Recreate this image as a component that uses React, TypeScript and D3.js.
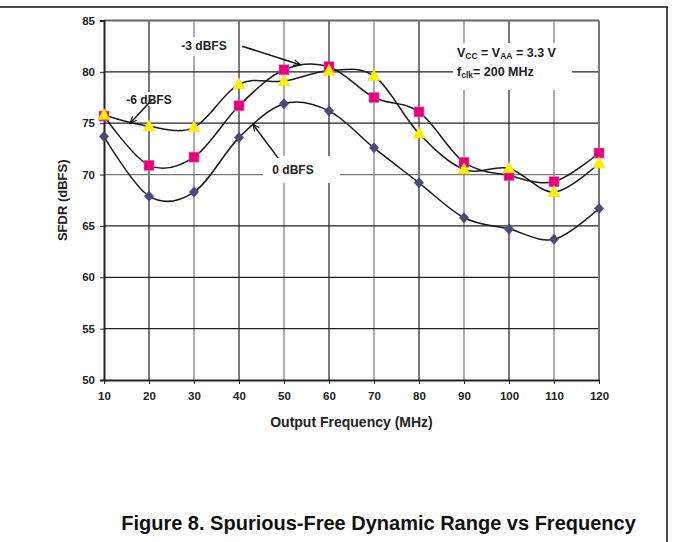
import { useEffect, useRef } from "react"
import * as d3 from "d3"

// output frequency (MHz)
const freqs = [10, 20, 30, 40, 50, 60, 70, 80, 90, 100, 110, 120]
// SFDR (dBFS) for each input level
const sfdr0 = [73.7, 67.9, 68.3, 73.6, 76.9, 76.2, 72.6, 69.2, 65.8, 64.7, 63.7, 66.7]
const sfdr3 = [75.7, 70.9, 71.7, 76.7, 80.2, 80.5, 77.5, 76.1, 71.2, 69.9, 69.3, 72.1]
const sfdr6 = [75.8, 74.7, 74.6, 78.8, 79.1, 80.1, 79.6, 74.0, 70.5, 70.6, 68.3, 71.1]
const yTicks = [50, 55, 60, 65, 70, 75, 80, 85]

const FONT = "'Liberation Sans', Arial, sans-serif"

export default function App() {
  const svgRef = useRef<SVGSVGElement>(null)

  useEffect(() => {
    if (!svgRef.current) return
    const svg = d3.select(svgRef.current)
    svg.selectAll("*").remove()

    const x = d3.scaleLinear().domain([10, 120]).range([104, 599])
    const y = d3.scaleLinear().domain([50, 85]).range([380, 20.5])

    // page frame
    svg.append("line").attr("x1", 0).attr("x2", 668).attr("y1", 7).attr("y2", 7)
      .attr("stroke", "#111").attr("stroke-width", 1.5)
    svg.append("line").attr("x1", 667).attr("x2", 667).attr("y1", 7).attr("y2", 542)
      .attr("stroke", "#111").attr("stroke-width", 1.5)

    const defs = svg.append("defs")
    defs.append("marker")
      .attr("id", "head")
      .attr("viewBox", "-10 -6 12 12")
      .attr("refX", 0).attr("refY", 0)
      .attr("markerWidth", 10).attr("markerHeight", 10)
      .attr("markerUnits", "userSpaceOnUse")
      .attr("orient", "auto")
      .append("path")
      .attr("d", "M-8,-3.5 L0,0 L-8,3.5")
      .attr("fill", "none").attr("stroke", "#111").attr("stroke-width", 1.4)

    const g = svg.append("g")

    // grid
    g.selectAll(".vgrid").data(freqs.slice(1, -1)).enter().append("line")
      .attr("x1", (d) => x(d)).attr("x2", (d) => x(d))
      .attr("y1", y(85)).attr("y2", y(50))
      .attr("stroke", (d, i) => (i % 2 === 0 ? "#222" : "#777")).attr("stroke-width", 1.2)
    g.selectAll(".hgrid").data(yTicks.slice(1, -1)).enter().append("line")
      .attr("x1", x(10)).attr("x2", x(120))
      .attr("y1", (d) => y(d)).attr("y2", (d) => y(d))
      .attr("stroke", (d) => (d === 70 ? "#777" : "#222")).attr("stroke-width", 1.2)

    // plot border
    g.append("line").attr("x1", x(10)).attr("x2", x(120)).attr("y1", y(85)).attr("y2", y(85))
      .attr("stroke", "#666").attr("stroke-width", 2)
    g.append("line").attr("x1", x(120)).attr("x2", x(120)).attr("y1", y(85)).attr("y2", y(50))
      .attr("stroke", "#777").attr("stroke-width", 2)

    // axes
    const yAxis = g.append("g").attr("transform", `translate(${x(10)},0)`)
      .call(d3.axisLeft(y).tickValues(yTicks).tickSize(4).tickPadding(5))
    yAxis.select(".domain").attr("stroke", "#222").attr("stroke-width", 2)
    yAxis.selectAll(".tick line").attr("stroke", "#222")
    yAxis.selectAll("text").style("font-family", FONT).style("font-size", "11.5px")
      .style("font-weight", "bold").style("fill", "#222")

    const xAxis = g.append("g").attr("transform", `translate(0,${y(50)})`)
      .call(d3.axisBottom(x).tickValues(freqs).tickSize(4).tickPadding(8).tickSizeOuter(0))
    xAxis.select(".domain").attr("stroke", "#222").attr("stroke-width", 2)
    xAxis.selectAll(".tick line").attr("stroke", "#222")
    xAxis.selectAll("text").style("font-family", FONT).style("font-size", "11.5px")
      .style("font-weight", "bold").style("fill", "#222")

    // annotation backgrounds
    const boxes = [
      { x: 176, y: 37, w: 58, h: 19 },
      { x: 263, y: 156, w: 77, h: 27 },
      { x: 122, y: 92, w: 54, h: 14 },
      { x: 453, y: 43, w: 119, h: 47 },
    ]
    g.selectAll(".box").data(boxes).enter().append("rect")
      .attr("x", (d) => d.x).attr("y", (d) => d.y)
      .attr("width", (d) => d.w).attr("height", (d) => d.h)
      .attr("fill", "white")

    // curves
    const series = [sfdr0, sfdr3, sfdr6]
    const line = d3.line<number>()
      .x((d, i) => x(freqs[i]))
      .y((d) => y(d))
      .curve(d3.curveCardinal.tension(0))
    series.forEach((values) => {
      g.append("path").datum(values)
        .attr("fill", "none").attr("stroke", "#1a1a1a").attr("stroke-width", 1.5)
        .attr("d", line)
    })

    // markers
    g.selectAll(".diamond").data(sfdr0).enter().append("path")
      .attr("transform", (d, i) => `translate(${x(freqs[i])},${y(d)})`)
      .attr("d", "M0,-5.5 L5,0 L0,5.5 L-5,0 Z")
      .attr("fill", "#4b4a7c")
    g.selectAll(".square").data(sfdr3).enter().append("rect")
      .attr("x", (d, i) => x(freqs[i]) - 5).attr("y", (d) => y(d) - 5)
      .attr("width", 10).attr("height", 10)
      .attr("fill", "#e6007e").attr("stroke", "#f060a8").attr("stroke-width", 0.6)
    g.selectAll(".triangle").data(sfdr6).enter().append("path")
      .attr("transform", (d, i) => `translate(${x(freqs[i])},${y(d)})`)
      .attr("d", "M0,-6.5 L6,4.5 L-6,4.5 Z")
      .attr("fill", "#fff200").attr("stroke", "#e8d800").attr("stroke-width", 0.5)

    // arrows
    const arrows = [
      { from: [40.7, 82.5], to: [53.6, 80.7] },
      { from: [20.7, 77.3], to: [15.8, 75.0] },
      { from: [48.7, 71.6], to: [43.1, 74.9] },
    ]
    g.selectAll(".arrow").data(arrows).enter().append("line")
      .attr("x1", (d) => x(d.from[0])).attr("y1", (d) => y(d.from[1]))
      .attr("x2", (d) => x(d.to[0])).attr("y2", (d) => y(d.to[1]))
      .attr("stroke", "#111").attr("stroke-width", 1.5)
      .attr("marker-end", "url(#head)")

    const labels = [
      { text: "-3 dBFS", x: 204, y: 49.5 },
      { text: "-6 dBFS", x: 149, y: 103.5 },
      { text: "0 dBFS", x: 293, y: 173.5 },
    ]
    g.selectAll(".lbl").data(labels).enter().append("text")
      .attr("x", (d) => d.x).attr("y", (d) => d.y)
      .attr("text-anchor", "middle")
      .style("font-family", FONT).style("font-size", "12px").style("font-weight", "bold")
      .style("fill", "#222")
      .text((d) => d.text)

    // conditions
    const cond = g.append("g").style("font-family", FONT).style("font-size", "12.5px")
      .style("font-weight", "bold").style("fill", "#222")
    const t1 = cond.append("text").attr("x", 457).attr("y", 57)
    t1.append("tspan").text("V")
    t1.append("tspan").attr("dy", 2).style("font-size", "8.5px").text("CC")
    t1.append("tspan").attr("dy", -2).text(" = V")
    t1.append("tspan").attr("dy", 2).style("font-size", "8.5px").text("AA")
    t1.append("tspan").attr("dy", -2).text(" = 3.3 V")
    const t2 = cond.append("text").attr("x", 457).attr("y", 76)
    t2.append("tspan").text("f")
    t2.append("tspan").attr("dy", 2).style("font-size", "8.5px").text("clk")
    t2.append("tspan").attr("dy", -2).text("= 200 MHz")

    // axis titles
    svg.append("text")
      .attr("transform", `translate(67,${(y(50) + y(85)) / 2}) rotate(-90)`)
      .attr("text-anchor", "middle")
      .style("font-family", FONT).style("font-size", "13px").style("font-weight", "bold")
      .style("fill", "#222")
      .text("SFDR (dBFS)")
    svg.append("text")
      .attr("x", (x(10) + x(120)) / 2).attr("y", 427)
      .attr("text-anchor", "middle")
      .style("font-family", FONT).style("font-size", "14px").style("font-weight", "bold")
      .style("fill", "#222")
      .text("Output Frequency (MHz)")

    // caption
    svg.append("text")
      .attr("x", 378.5).attr("y", 530)
      .attr("text-anchor", "middle")
      .style("font-family", FONT).style("font-size", "20px").style("font-weight", "bold")
      .style("fill", "#111")
      .text("Figure 8. Spurious-Free Dynamic Range vs Frequency")
  }, [])

  return (
    <svg
      ref={svgRef}
      width={673}
      height={542}
      style={{ position: "absolute", left: 0, top: 0, background: "white" }}
    ></svg>
  )
}
